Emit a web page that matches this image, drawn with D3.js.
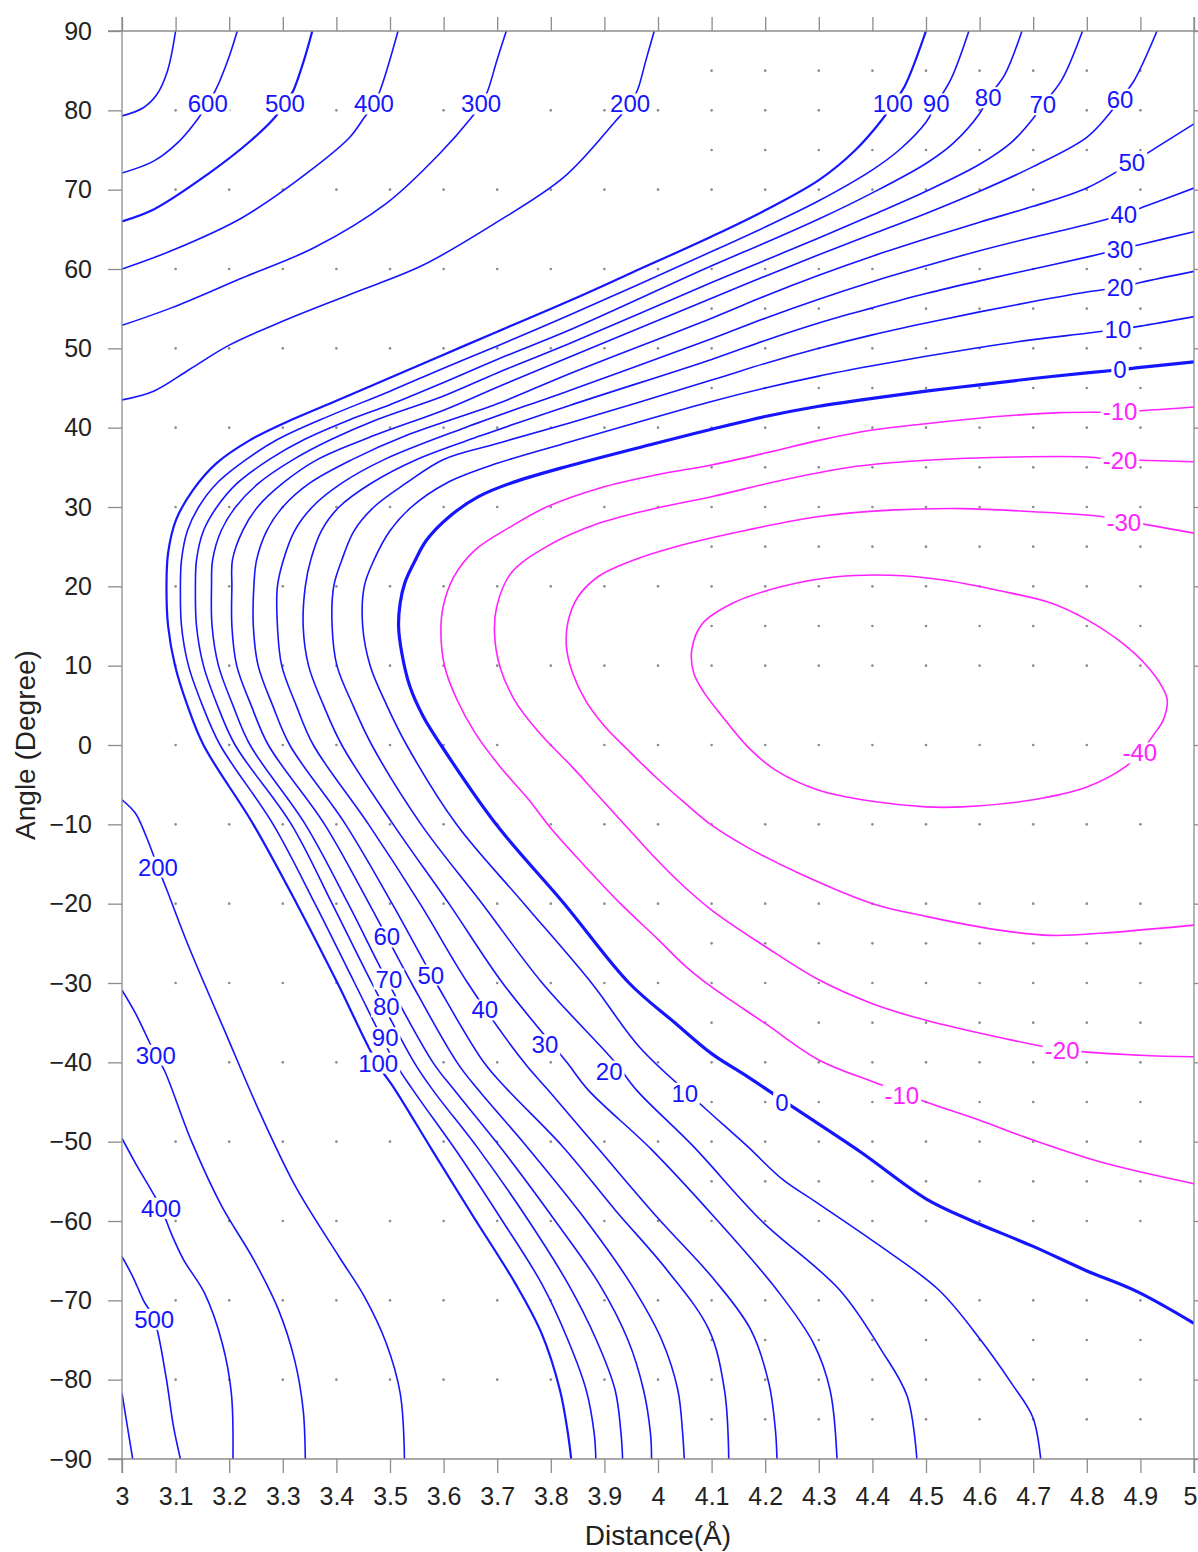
<!DOCTYPE html>
<html>
<head>
<meta charset="utf-8">
<script src="https://cdn.jsdelivr.net/npm/d3@7"></script>
<style>
  body { margin: 0; background: #ffffff; }
  svg text { font-family: "Liberation Sans", Arial, Helvetica, sans-serif; }
</style>
</head>
<body>
<svg id="chart" width="1198" height="1552"></svg>
<script>
// ---- axis ticks -------------------------------------------------------
const xTicks = [3, 3.1, 3.2, 3.3, 3.4, 3.5, 3.6, 3.7, 3.8, 3.9, 4, 4.1, 4.2, 4.3, 4.4, 4.5, 4.6, 4.7, 4.8, 4.9, 5];
const yTicks = [90, 80, 70, 60, 50, 40, 30, 20, 10, 0, -10, -20, -30, -40, -50, -60, -70, -80, -90];

// ---- sample-point marks (distance columns, angle rows) ----------------
const dotCols = [3.1, 3.2, 3.3, 3.4, 3.5, 3.6, 3.7, 3.8, 3.9, 4.0, 4.1, 4.2, 4.3, 4.4, 4.5, 4.6, 4.7, 4.8, 4.9];
const dotRows = [80, 70, 60, 50, 40, 30, 20, 10, 0, -10, -20, -30, -40, -50, -60, -70, -80];
const fineCols = [4.1, 4.2, 4.3, 4.4, 4.5, 4.6, 4.7, 4.8, 4.9];
const fineRows = [85, 75, 55, 45, 35, 25, 15, -25, -35, -45, -55, -75, -85];

// ---- contour lines: [distance (Å), angle (deg)] ------------------------
const c700 = [[3.0,79.3],[3.039,80.3],[3.065,82.0],[3.085,85.0],[3.1,90]];
const up600 = [[3.0,72.1],[3.059,73.6],[3.105,76.0],[3.139,78.7],[3.16,80.8],[3.175,82.6],[3.199,86.6],[3.215,90]];
const up500 = [[3.0,66.0],[3.059,67.5],[3.159,71.9],[3.239,76.1],[3.285,79.1],[3.304,80.8],[3.319,82.4],[3.339,86.2],[3.355,90]];
const up400 = [[3.0,60.0],[3.092,62.3],[3.225,66.5],[3.359,72.8],[3.425,76.6],[3.452,79.1],[3.47,80.8],[3.482,82.6],[3.499,86.2],[3.515,90]];
const up300 = [[3.0,52.9],[3.092,55.1],[3.225,58.9],[3.359,62.7],[3.492,68.2],[3.592,74.5],[3.652,79.1],[3.67,80.8],[3.682,82.4],[3.699,86.2],[3.717,90]];
const up200 = [[3.0,43.5],[3.059,44.6],[3.125,47.3],[3.2,50.4],[3.292,53.2],[3.425,56.8],[3.559,60.4],[3.692,65.6],[3.825,71.6],[3.919,78.5],[3.948,80.8],[3.962,82.6],[3.977,86.2],[3.993,90]];

const c100 = [[4.5,90],[4.46,83.0],[4.438,80.8],[4.42,79.0],[4.367,74.9],[4.3,71.2],[4.2,67.4],[4.1,64.1],[3.95,59.5],[3.835,56.0],[3.7,52.1],[3.6,49.2],[3.5,46.3],[3.4,43.4],[3.3,40.5],[3.238,38.4],[3.176,35.5],[3.132,32.1],[3.101,28.4],[3.086,24.2],[3.083,20],[3.086,15],[3.099,10],[3.122,5],[3.152,0],[3.245,-10],[3.326,-20],[3.402,-30],[3.475,-40],[3.51,-43.5],[3.578,-51],[3.656,-59.5],[3.734,-67.9],[3.783,-74.2],[3.817,-81.3],[3.832,-86.8],[3.838,-90]];
const c90 = [[4.58,90],[4.547,84.0],[4.519,80.8],[4.5,78.5],[4.45,75.0],[4.4,72.5],[4.3,68.6],[4.2,65.3],[4.1,62.2],[3.835,54.2],[3.7,50.3],[3.6,47.5],[3.5,44.6],[3.37,41],[3.29,38.5],[3.232,36],[3.177,33],[3.143,30],[3.122,27],[3.111,23.3],[3.109,20],[3.111,15],[3.124,10],[3.15,5],[3.183,0],[3.282,-10],[3.36,-20],[3.434,-30],[3.509,-40],[3.543,-43.5],[3.627,-51.5],[3.705,-59.5],[3.783,-67.9],[3.832,-75.0],[3.866,-81.3],[3.881,-86.8],[3.884,-90]];
const c80 = [[4.679,90],[4.647,84.5],[4.616,81.6],[4.6,79.6],[4.55,75.8],[4.5,73.3],[4.4,69.6],[4.3,66.3],[4.2,63.3],[4.1,60.4],[3.835,52.3],[3.7,48.6],[3.6,45.7],[3.5,42.9],[3.425,41],[3.34,38.5],[3.275,36],[3.215,33],[3.177,30],[3.152,27],[3.139,23.3],[3.137,20],[3.139,15],[3.152,10],[3.178,5],[3.211,0],[3.316,-10],[3.392,-20],[3.466,-30],[3.545,-40],[3.58,-43.5],[3.666,-51],[3.754,-59.5],[3.832,-67.9],[3.885,-75],[3.92,-81.3],[3.931,-86.8],[3.934,-90]];
const c70 = [[4.792,90],[4.753,83.8],[4.718,80.7],[4.7,79.0],[4.66,76.0],[4.6,73.2],[4.5,69.8],[4.4,66.8],[4.3,63.9],[4.2,61.1],[4.1,58.3],[3.835,50.6],[3.7,46.9],[3.6,44.0],[3.475,41],[3.39,38.5],[3.32,36],[3.255,33],[3.212,30],[3.185,27],[3.169,23.3],[3.167,20],[3.168,15],[3.18,10],[3.207,5],[3.239,0],[3.342,-10],[3.422,-20],[3.497,-30],[3.58,-40],[3.62,-43.5],[3.715,-51.5],[3.803,-59.5],[3.89,-67.9],[3.944,-75],[3.973,-81.3],[3.986,-86.8],[3.988,-90]];
const c60 = [[4.931,90],[4.887,83.6],[4.862,81.4],[4.84,79.4],[4.8,76.6],[4.7,72.9],[4.6,69.8],[4.5,67.0],[4.4,64.4],[4.3,61.8],[4.2,59.1],[4.1,56.3],[3.835,48.9],[3.7,45.1],[3.6,42.2],[3.47,39],[3.365,36],[3.3,33],[3.253,30],[3.225,27],[3.206,23.3],[3.205,20],[3.205,15],[3.214,10],[3.241,5],[3.273,0],[3.378,-10],[3.461,-20],[3.54,-30],[3.625,-40],[3.665,-43.5],[3.755,-50.6],[3.861,-59.5],[3.949,-67.9],[4.007,-75],[4.037,-81.3],[4.046,-86.8],[4.049,-90]];
const c50 = [[5.0,78.3],[4.927,75.2],[4.884,73.4],[4.8,70.2],[4.7,67.9],[4.6,65.9],[4.5,63.8],[4.4,61.6],[4.3,59.2],[4.2,56.6],[4.1,53.8],[3.835,46.8],[3.7,43.0],[3.53,39],[3.43,36],[3.35,33],[3.3,30],[3.27,27],[3.251,23.3],[3.246,20],[3.245,15],[3.254,10],[3.281,5],[3.313,0],[3.417,-10],[3.504,-20],[3.586,-30],[3.675,-40],[3.72,-43.5],[3.822,-50.6],[3.92,-58.6],[4.017,-66.2],[4.095,-73.7],[4.124,-81.3],[4.132,-90]];
const c40 = [[5.0,70.2],[4.913,68.0],[4.869,66.9],[4.8,65.6],[4.7,64.0],[4.6,62.3],[4.5,60.4],[4.4,58.4],[4.3,56.2],[4.2,53.8],[4.1,51.2],[3.835,44.7],[3.64,40],[3.49,36],[3.41,33],[3.355,30],[3.322,27],[3.301,23.3],[3.29,20],[3.29,15],[3.298,10],[3.325,5],[3.357,0],[3.46,-10],[3.556,-20],[3.645,-30],[3.75,-40],[3.795,-43.5],[3.89,-51],[3.998,-59.5],[4.105,-67.4],[4.173,-73.7],[4.207,-80.5],[4.219,-86.3],[4.222,-90]];
const c30 = [[5.0,64.7],[4.9,63.1],[4.862,62.5],[4.8,61.5],[4.7,60.0],[4.6,58.5],[4.5,56.9],[4.4,55.1],[4.3,53.2],[4.2,51.0],[4.1,48.6],[3.835,42.8],[3.67,39],[3.55,36],[3.465,33],[3.405,30],[3.372,27],[3.352,23.3],[3.342,20],[3.338,15],[3.348,10],[3.376,5],[3.41,0],[3.506,-10],[3.61,-20],[3.71,-30],[3.83,-40],[3.87,-43.5],[3.988,-51],[4.105,-59.5],[4.222,-68.7],[4.29,-75.4],[4.321,-81.3],[4.334,-90]];
const c20 = [[5.0,59.7],[4.9,58.3],[4.862,57.7],[4.8,57.1],[4.7,55.9],[4.6,54.6],[4.5,53.2],[4.4,51.7],[4.3,50.0],[4.2,48.1],[4.1,46.0],[3.835,40.6],[3.70,38],[3.60,36],[3.53,33],[3.47,30],[3.433,27],[3.41,23.3],[3.395,20],[3.392,15],[3.401,10],[3.431,5],[3.466,0],[3.558,-10],[3.672,-20],[3.784,-30],[3.92,-40],[3.96,-43.5],[4.066,-50.6],[4.192,-59.9],[4.339,-68.7],[4.417,-76.3],[4.465,-82.1],[4.483,-90]];
const c10 = [[5.0,54.0],[4.9,52.8],[4.858,52.4],[4.8,51.9],[4.7,51.1],[4.6,50.1],[4.5,49.0],[4.4,47.8],[4.3,46.5],[4.2,45.0],[4.1,43.3],[3.835,38.2],[3.70,35.5],[3.605,33],[3.54,30],[3.50,27],[3.47,23.3],[3.452,20],[3.449,15],[3.463,10],[3.494,5],[3.531,0],[3.624,-10],[3.75,-20],[3.876,-30],[3.967,-38.2],[4.083,-45.5],[4.167,-50.6],[4.233,-54.8],[4.29,-57.4],[4.407,-62.8],[4.524,-68.7],[4.602,-75],[4.66,-80.5],[4.699,-84.7],[4.714,-90]];
const c0 = [[5.0,48.3],[4.9,47.6],[4.862,47.3],[4.8,46.9],[4.7,46.2],[4.6,45.4],[4.5,44.6],[4.4,43.7],[4.3,42.7],[4.2,41.4],[4.1,39.8],[4.0,38.1],[3.835,35.2],[3.725,33.0],[3.665,31.3],[3.611,28.8],[3.568,25.8],[3.545,23],[3.528,20.5],[3.519,17.9],[3.516,14.9],[3.522,11.6],[3.537,7.4],[3.562,3.6],[3.595,0],[3.698,-10],[3.825,-20],[3.946,-30],[4.033,-35.1],[4.1,-38.9],[4.167,-41.8],[4.26,-46.0],[4.378,-51.3],[4.5,-57.2],[4.583,-59.9],[4.7,-63.2],[4.797,-66.2],[4.894,-68.9],[5.0,-72.9]];

const m10 = [[5.0,42.6],[4.862,42.0],[4.75,41.9],[4.633,41.4],[4.5,40.5],[4.4,39.7],[4.3,38.4],[4.2,36.8],[4.1,35.3],[4.0,34.1],[3.892,32.4],[3.792,30.0],[3.725,27.5],[3.659,24.6],[3.619,21.2],[3.599,17.4],[3.595,14.1],[3.602,9.9],[3.625,5.7],[3.659,1.5],[3.705,-2.7],[3.759,-6.9],[3.80,-10.5],[3.86,-15],[3.93,-20],[4.0,-24.5],[4.05,-27.8],[4.1,-30.5],[4.2,-35.1],[4.3,-39.7],[4.407,-42.6],[4.5,-45.0],[4.6,-47.3],[4.7,-49.8],[4.833,-52.7],[5.0,-55.3]];
const m20 = [[5.0,35.7],[4.9,35.9],[4.862,35.9],[4.8,36.3],[4.667,36.3],[4.5,35.9],[4.367,35.1],[4.233,33.4],[4.1,31.3],[4.0,29.9],[3.892,28.0],[3.792,25.0],[3.725,21.6],[3.699,17.4],[3.695,14.1],[3.705,9.9],[3.732,5.7],[3.779,1.5],[3.839,-2.7],[3.89,-6.5],[3.94,-10.2],[3.99,-13.9],[4.04,-17.3],[4.1,-20.8],[4.2,-25.4],[4.3,-29.6],[4.4,-32.6],[4.5,-34.7],[4.633,-36.8],[4.754,-38.4],[4.9,-39.1],[5.0,-39.3]];
const m30 = [[5.0,26.7],[4.869,28.3],[4.827,28.8],[4.7,29.4],[4.567,29.8],[4.433,29.6],[4.3,28.8],[4.167,27.1],[4.033,25.0],[3.95,23.2],[3.89,21.3],[3.85,18.6],[3.832,15.5],[3.829,12.5],[3.84,9.2],[3.865,5.6],[3.9,2.4],[3.945,-0.7],[3.995,-4.0],[4.05,-7.3],[4.1,-10.1],[4.167,-12.9],[4.267,-16.3],[4.4,-20.0],[4.5,-21.6],[4.633,-23.3],[4.733,-24.0],[4.833,-23.7],[5.0,-22.7]];
const m40 = [[4.063,12.0],[4.083,15.3],[4.14,17.9],[4.233,20.0],[4.333,21.2],[4.433,21.4],[4.533,20.8],[4.633,19.5],[4.733,17.9],[4.8,15.8],[4.867,12.8],[4.913,9.9],[4.94,7.4],[4.95,5.7],[4.943,3.2],[4.927,1.5],[4.899,-1.0],[4.873,-2.7],[4.8,-5.3],[4.7,-6.9],[4.567,-7.8],[4.5,-7.8],[4.4,-7.1],[4.3,-5.7],[4.22,-3.2],[4.167,-0.2],[4.12,3.6],[4.087,6.5],[4.067,9.0]];

const low200 = [[3.0,-6.9],[3.025,-8.6],[3.045,-11.5],[3.067,-15.4],[3.085,-18.5],[3.125,-25.5],[3.192,-36.1],[3.259,-46.6],[3.325,-55.8],[3.405,-64.5],[3.452,-69.5],[3.493,-75.4],[3.519,-81.7],[3.527,-90]];
const low300 = [[3.0,-30.9],[3.025,-33.8],[3.063,-39.1],[3.079,-41.0],[3.13,-50],[3.185,-58],[3.246,-64.9],[3.292,-71.2],[3.322,-77.5],[3.338,-83.8],[3.342,-90]];
const low400 = [[3.0,-49.6],[3.025,-52.7],[3.073,-58.4],[3.092,-61.6],[3.115,-64.9],[3.154,-69.1],[3.187,-75.4],[3.204,-81.7],[3.207,-90]];
const low500 = [[3.0,-64.5],[3.02,-67],[3.04,-70],[3.06,-72.4],[3.082,-79.6],[3.096,-85.9],[3.109,-90]];
const low600 = [[3.0,-81.7],[3.01,-85.9],[3.02,-90]];

// ---- contour labels: [level, distance, angle] --------------------------
const contourLabels = [
  [600,3.160,80.8],[500,3.304,80.8],[400,3.470,80.8],[300,3.670,80.8],[200,3.948,80.8],
  [100,4.438,80.8],[90,4.519,80.8],[80,4.616,81.6],[70,4.718,80.7],[60,4.862,81.4],
  [50,4.884,73.4],[40,4.869,66.9],[30,4.862,62.5],[20,4.862,57.7],[10,4.858,52.4],[0,4.862,47.3],
  [-10,4.862,42.0],[-20,4.862,35.9],[-30,4.869,28.0],[-40,4.899,-1.0],
  [-20,4.754,-38.5],[-10,4.455,-44.2],[0,4.231,-45.1],[10,4.050,-43.9],[20,3.909,-41.1],
  [30,3.789,-37.8],[40,3.677,-33.4],[50,3.576,-29.0],[60,3.494,-24.2],[70,3.498,-29.5],
  [80,3.493,-33.0],[90,3.491,-36.9],[100,3.478,-40.1],
  [200,3.067,-15.4],[300,3.063,-39.1],[400,3.073,-58.4],[500,3.060,-72.4]
];

// ---- set-up --------------------------------------------------------------
const W = 1198, H = 1552;
const plotL = 122, plotR = 1194, plotT = 31, plotB = 1459;
const blue = "#1515ff", magenta = "#ff22ff", axisGrey = "#8c8c8c";

const x = d3.scaleLinear().domain([3, 5]).range([plotL, plotR]);
const y = d3.scaleLinear().domain([-90, 90]).range([plotB, plotT]);

const svg = d3.select("#chart");
svg.append("rect").attr("width", W).attr("height", H).attr("fill", "#fff");

svg.append("defs").append("clipPath").attr("id", "plotClip")
  .append("rect").attr("x", plotL).attr("y", plotT)
  .attr("width", plotR - plotL).attr("height", plotB - plotT);

// sample-point marks
const dotG = svg.append("g").attr("fill", "#8a8a8a");
const dots = [];
dotRows.forEach(r => dotCols.forEach(c => dots.push([c, r])));
fineRows.forEach(r => fineCols.forEach(c => dots.push([c, r])));
dotG.selectAll("circle").data(dots).join("circle")
  .attr("cx", d => x(d[0])).attr("cy", d => y(d[1])).attr("r", 1.3);

// contour lines
const contourSet = [
  { level: 700, pts: c700 }, { level: 600, pts: up600 }, { level: 500, pts: up500, w: 2.2 },
  { level: 400, pts: up400 }, { level: 300, pts: up300 }, { level: 200, pts: up200 },
  { level: 100, pts: c100, w: 2.2 }, { level: 90, pts: c90 }, { level: 80, pts: c80 },
  { level: 70, pts: c70 }, { level: 60, pts: c60 }, { level: 50, pts: c50 },
  { level: 40, pts: c40 }, { level: 30, pts: c30 }, { level: 20, pts: c20 },
  { level: 10, pts: c10 }, { level: 0, pts: c0, w: 3.2 },
  { level: -10, pts: m10 }, { level: -20, pts: m20 }, { level: -30, pts: m30 },
  { level: -40, pts: m40, closed: true },
  { level: 200, pts: low200 }, { level: 300, pts: low300 }, { level: 400, pts: low400 },
  { level: 500, pts: low500 }, { level: 600, pts: low600 }
];

const lineOpen = d3.line().x(d => x(d[0])).y(d => y(d[1])).curve(d3.curveCatmullRom.alpha(0.5));
const lineClosed = d3.line().x(d => x(d[0])).y(d => y(d[1])).curve(d3.curveCatmullRomClosed.alpha(0.5));

const lineG = svg.append("g").attr("clip-path", "url(#plotClip)").attr("fill", "none");
lineG.selectAll("path").data(contourSet).join("path")
  .attr("d", d => (d.closed ? lineClosed : lineOpen)(d.pts))
  .attr("stroke", d => d.level < 0 ? magenta : blue)
  .attr("stroke-width", d => d.w || 1.6)
  .attr("stroke-linejoin", "round");

// contour labels with a white backing that breaks the line
const labG = svg.append("g");
contourLabels.forEach(([lv, dx, dy]) => {
  const g = labG.append("g");
  const t = g.append("text")
    .attr("x", x(dx)).attr("y", y(dy))
    .attr("text-anchor", "middle").attr("dominant-baseline", "central")
    .attr("font-size", 24)
    .attr("fill", lv < 0 ? magenta : blue)
    .text(lv);
  const bb = t.node().getBBox();
  g.insert("rect", "text")
    .attr("x", bb.x - 2).attr("y", bb.y + 3)
    .attr("width", bb.width + 4).attr("height", bb.height - 6)
    .attr("fill", "#fff");
});

// ---- axes ----------------------------------------------------------------
const tick = 14;
const axG = svg.append("g").attr("stroke", axisGrey).attr("stroke-width", 1.3);
// frame lines, each running on past the corners by one tick length
axG.append("line").attr("x1", plotL).attr("x2", plotL).attr("y1", plotT - tick).attr("y2", plotB + tick);
axG.append("line").attr("x1", plotR).attr("x2", plotR).attr("y1", plotT - tick).attr("y2", plotB + tick);
axG.append("line").attr("x1", plotL - tick).attr("x2", plotR + tick).attr("y1", plotT).attr("y2", plotT);
axG.append("line").attr("x1", plotL - tick).attr("x2", plotR + tick).attr("y1", plotB).attr("y2", plotB);

const styleAxis = g => {
  g.select(".domain").remove();
  g.selectAll(".tick line").attr("stroke", axisGrey).attr("stroke-width", 1.3);
  g.selectAll(".tick text").attr("fill", "#222").attr("font-size", 25)
    .attr("font-family", "'Liberation Sans', Arial, sans-serif");
};

svg.append("g").attr("transform", `translate(${plotL},0)`)
  .call(d3.axisLeft(y).tickValues(yTicks).tickSize(tick).tickPadding(16)
    .tickFormat(d => d < 0 ? "\u2212" + Math.abs(d) : String(d)))
  .call(styleAxis);
svg.append("g").attr("transform", `translate(${plotR},0)`)
  .call(d3.axisRight(y).tickValues(yTicks).tickSize(tick).tickFormat(""))
  .call(styleAxis);
const xAxisG = svg.append("g").attr("transform", `translate(0,${plotB})`)
  .call(d3.axisBottom(x).tickValues(xTicks).tickSize(tick).tickPadding(14).tickFormat(d => String(+d.toFixed(1))))
  .call(styleAxis);
// the last distance label sits against the page edge: keep it inside
xAxisG.selectAll(".tick text").filter(d => d === 5).attr("text-anchor", "end").attr("x", 3);
svg.append("g").attr("transform", `translate(0,${plotT})`)
  .call(d3.axisTop(x).tickValues(xTicks).tickSize(tick).tickFormat(""))
  .call(styleAxis);

// axis titles
svg.append("text")
  .attr("x", 658).attr("y", 1545)
  .attr("text-anchor", "middle").attr("font-size", 28).attr("fill", "#222")
  .text("Distance(Å)");
svg.append("text")
  .attr("transform", `translate(35,${(plotT + plotB) / 2}) rotate(-90)`)
  .attr("text-anchor", "middle").attr("font-size", 28).attr("fill", "#222")
  .text("Angle (Degree)");
</script>
</body>
</html>
